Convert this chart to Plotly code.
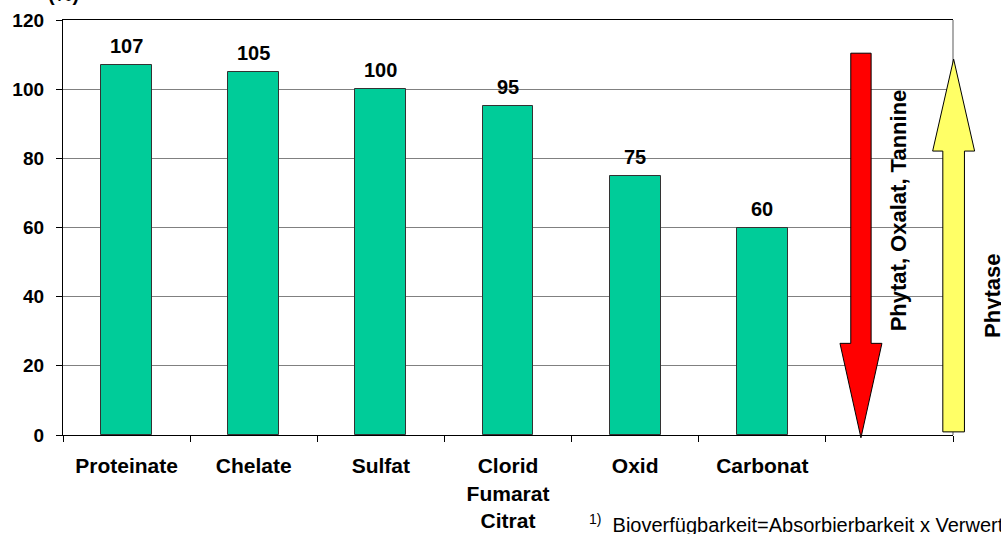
import plotly.graph_objects as go

# Relative bioavailability of mineral compounds (%)
categories = ["Proteinate", "Chelate", "Sulfat", "Clorid<br>Fumarat<br>Citrat", "Oxid", "Carbonat"]
values = [107, 105, 100, 95, 75, 60]
y_ticks = [0, 20, 40, 60, 80, 100, 120]
n_slots = 7  # six compounds plus one slot for the influence arrows

FONT = "Liberation Sans, Arial, sans-serif"
BAR_COLOR = "#00CC99"

x_pos = list(range(len(categories)))

fig = go.Figure()
fig.add_trace(go.Bar(
    x=x_pos, y=values, width=0.4,
    marker=dict(color=BAR_COLOR, line=dict(color="#333333", width=1)),
    hoverinfo="skip",
))

# value labels above bars
for xi, v in zip(x_pos, values):
    fig.add_annotation(
        x=xi, y=v, text=str(v), showarrow=False, yanchor="middle", yshift=19,
        font=dict(family=FONT, size=20, color="black", weight="bold"),
    )


def to_paper(x, y):
    """Map slot/value coordinates onto paper coordinates (unclipped shapes)."""
    return (x + 0.5) / n_slots, y / y_ticks[-1]


def arrow_path(cx, shaft_half, head_half, y_tail, y_head_base, y_tip):
    pts = [
        (cx - shaft_half, y_tail), (cx + shaft_half, y_tail),
        (cx + shaft_half, y_head_base), (cx + head_half, y_head_base),
        (cx, y_tip),
        (cx - head_half, y_head_base), (cx - shaft_half, y_head_base),
    ]
    pp = [to_paper(px, py) for px, py in pts]
    return "M " + " L ".join(f"{a:.5f},{b:.5f}" for a, b in pp) + " Z"


# right frame edge
fig.add_shape(type="line", xref="paper", yref="paper", x0=1, x1=1, y0=0, y1=1,
              line=dict(color="#808080", width=1.3), layer="below")

# downward arrow: inhibitors
fig.add_shape(type="path", xref="paper", yref="paper",
              path=arrow_path(5.776, 0.08, 0.165, 110.4, 26.5, -0.8),
              fillcolor="#FF0000", line=dict(color="black", width=1))
# upward arrow: phytase
fig.add_shape(type="path", xref="paper", yref="paper",
              path=arrow_path(6.505, 0.085, 0.165, 0.9, 82.1, 108.7),
              fillcolor="#FFFF66", line=dict(color="black", width=1))

fig.add_annotation(
    xref="paper", yref="paper", x=0.9385, y=0.542, text="Phytat, Oxalat, Tannine",
    textangle=-90, showarrow=False, xanchor="center", yanchor="middle",
    font=dict(family=FONT, size=22, color="black", weight="bold"),
)
fig.add_annotation(
    xref="paper", yref="paper", x=1.0436, y=0.3346, text="Phytase",
    textangle=-90, showarrow=False, xanchor="center", yanchor="middle",
    font=dict(family=FONT, size=22, color="black", weight="bold"),
)

# axis unit, above the plot area
fig.add_annotation(
    xref="paper", yref="paper", x=0.0, y=1, yshift=26, text="(%)",
    showarrow=False, xanchor="center", yanchor="middle",
    font=dict(family=FONT, size=20, color="black", weight="bold"),
)

# footnote
fig.add_annotation(
    xref="paper", yref="paper", x=(587 - 63) / 889.7, y=-0.213,
    xanchor="left", yanchor="middle", showarrow=False,
    text="<sup>1)</sup>\u00a0\u00a0Bioverfügbarkeit=Absorbierbarkeit x Verwertbarkeit",
    font=dict(family=FONT, size=20, color="black"),
)

fig.update_layout(
    width=1001, height=534,
    margin=dict(l=63, r=48, t=20, b=99, pad=0),
    paper_bgcolor="white", plot_bgcolor="white",
    showlegend=False, bargap=0,
    font=dict(family=FONT, color="black"),
    xaxis=dict(
        range=[-0.5, n_slots - 0.5], automargin=False,
        tickmode="array", tickvals=x_pos, ticktext=categories,
        ticks="", ticklabelstandoff=12,
        tickfont=dict(family=FONT, size=21, color="black", weight="bold"),
        showline=True, linecolor="black", linewidth=1.3, mirror=True,
        showgrid=False, zeroline=False,
        minor=dict(ticks="outside", tick0=-0.5, dtick=1, ticklen=6,
                   tickcolor="black", tickwidth=1, showgrid=False),
    ),
    yaxis=dict(
        range=[y_ticks[0], y_ticks[-1]], automargin=False,
        tickmode="array", tickvals=y_ticks,
        ticks="outside", ticklen=6, tickcolor="black", tickwidth=1,
        ticklabelstandoff=8,
        tickfont=dict(family=FONT, size=19, color="black", weight="bold"),
        showline=True, linecolor="black", linewidth=1.3,
        showgrid=True, gridcolor="#808080", gridwidth=1,
        zeroline=False,
    ),
)

fig.write_html("out.html")
